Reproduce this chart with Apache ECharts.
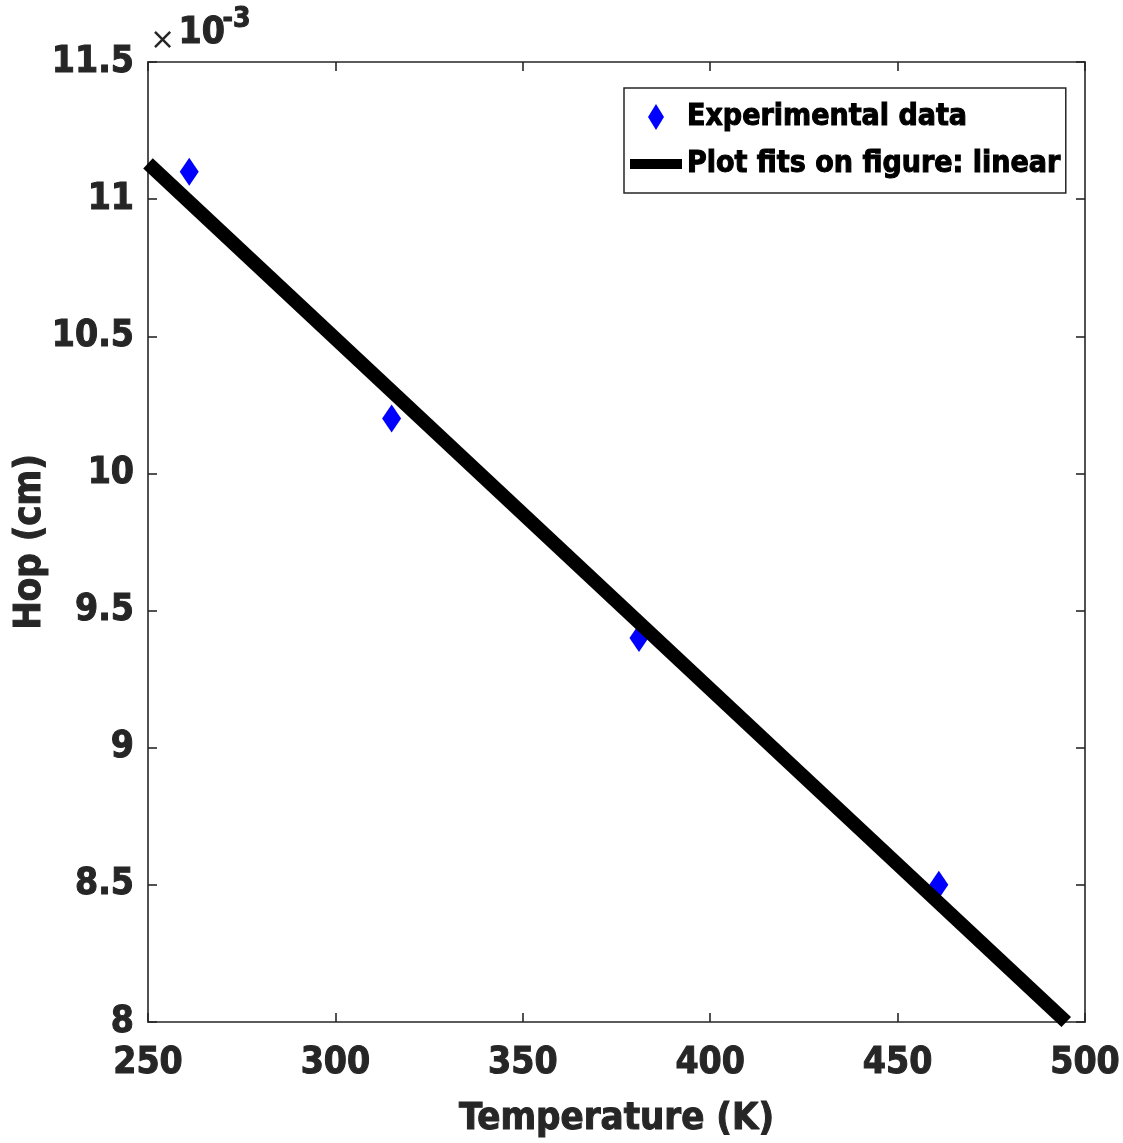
<!DOCTYPE html>
<html>
<head>
<meta charset="utf-8">
<script src="https://cdn.jsdelivr.net/npm/echarts@6/dist/echarts.min.js"></script>
<style>html,body{margin:0;padding:0;background:#fff}#c{width:1123px;height:1143px}</style>
</head>
<body>
<div id="c"></div>
<script>
// ---- data (Hop in units of 1e-3 cm) ----
const expTemp = [261, 315, 381, 461];
const expHop = [11.1, 10.2, 9.4, 8.5];
const fitTemp = [250, 495];
const fitHop = [11.13, 8.0];
const xTicks = [250, 300, 350, 400, 450, 500];
const yTicks = [8, 8.5, 9, 9.5, 10, 10.5, 11, 11.5];
const seriesNames = ['Experimental data', 'Plot fits on figure: linear'];
const axisTitles = { x: 'Temperature (K)', y: 'Hop (cm)' };
const exponentText = ['×', '10', '-3'];

const FONT = "'Liberation Sans Narrow', 'DejaVu Sans Condensed', 'DejaVu Sans', sans-serif";
const AX = '#262626';
const lbl = { fontFamily: FONT, fontWeight: 'bold', fontSize: 37, color: AX, textBorderColor: AX, textBorderWidth: 1 };

const chart = echarts.init(document.getElementById('c'));
const axLine = { show: true, lineStyle: { color: AX, width: 1.6 } };
const axTick = { show: true, inside: true, length: 9, lineStyle: { color: AX, width: 1.6 } };

chart.setOption({
  animation: false,
  backgroundColor: '#fff',
  grid: { left: 148, right: 38, top: 62, bottom: 121, containLabel: false, outerBoundsMode: 'none' },
  xAxis: [
    { type: 'value', min: xTicks[0], max: xTicks[xTicks.length - 1], interval: 50, position: 'bottom',
      axisLine: axLine, axisTick: axTick, splitLine: { show: false },
      axisLabel: Object.assign({ margin: 23 }, lbl),
      name: axisTitles.x, nameLocation: 'middle', nameGap: 78, nameMoveOverlap: false,
      nameTextStyle: Object.assign({}, lbl, { fontSize: 38 }) },
    { type: 'value', min: xTicks[0], max: xTicks[xTicks.length - 1], interval: 50, position: 'top',
      axisLine: axLine, axisTick: axTick, splitLine: { show: false }, axisLabel: { show: false } }
  ],
  yAxis: [
    { type: 'value', min: yTicks[0], max: yTicks[yTicks.length - 1], interval: 0.5, position: 'left',
      axisLine: axLine, axisTick: axTick, splitLine: { show: false },
      axisLabel: Object.assign({ margin: 14 }, lbl),
      name: axisTitles.y, nameLocation: 'middle', nameGap: 99, nameRotate: 90, nameMoveOverlap: false,
      nameTextStyle: Object.assign({}, lbl, { fontSize: 38 }) },
    { type: 'value', min: yTicks[0], max: yTicks[yTicks.length - 1], interval: 0.5, position: 'right',
      axisLine: axLine, axisTick: axTick, splitLine: { show: false }, axisLabel: { show: false } }
  ],
  legend: {
    orient: 'vertical', left: 624, top: 88,
    itemWidth: 52, itemHeight: 26, itemGap: 7,
    symbolKeepAspect: true,
    borderColor: '#262626', borderWidth: 1.5, borderRadius: 0,
    padding: [9, 5, 9, 6],
    backgroundColor: '#fff',
    textStyle: { fontFamily: FONT, fontWeight: 'bold', fontSize: 30, color: '#000', lineHeight: 40,
      textBorderColor: '#000', textBorderWidth: 1 },
    data: [
      { name: seriesNames[0], icon: 'path://M8,0L16,13L8,26L0,13Z' },
      { name: seriesNames[1], icon: 'path://M0,0L52,0L52,10L0,10Z' }
    ]
  },
  graphic: [
    { type: 'text', left: 150, top: 26, z: 100,
      style: { text: exponentText[0], fontFamily: 'DejaVu Sans', fontSize: 30, fill: AX } },
    { type: 'text', left: 178, top: 14, z: 100,
      style: { text: exponentText[1], fontFamily: FONT, fontWeight: 'bold', fontSize: 37, fill: AX, stroke: AX, lineWidth: 1 } },
    { type: 'text', left: 222, top: 5, z: 100,
      style: { text: exponentText[2], fontFamily: FONT, fontWeight: 'bold', fontSize: 28, fill: AX, stroke: AX, lineWidth: 1 } }
  ],
  series: [
    { name: seriesNames[0], type: 'scatter', z: 2,
      symbol: 'diamond', symbolSize: [19, 28],
      itemStyle: { color: '#0000ff', opacity: 1 },
      data: expTemp.map((t, i) => [t, expHop[i]]) },
    { name: seriesNames[1], type: 'line', z: 3, clip: false,
      symbol: 'none', showSymbol: false,
      lineStyle: { color: '#000', width: 14, cap: 'butt' },
      itemStyle: { color: '#000' },
      data: fitTemp.map((t, i) => [t, fitHop[i]]) }
  ]
});
</script>
</body>
</html>
